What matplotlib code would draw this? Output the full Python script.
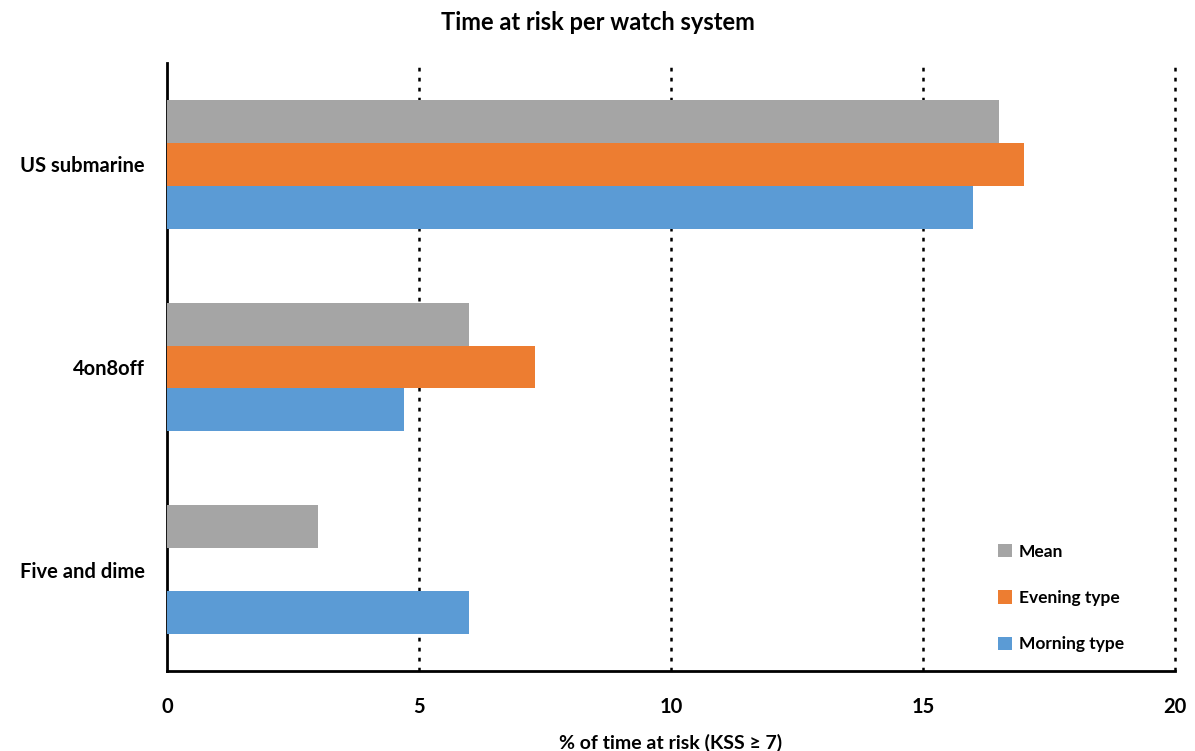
import numpy as np
import matplotlib.pyplot as plt

plt.rcParams['font.family'] = ['Lato', 'DejaVu Sans']
plt.rcParams['font.weight'] = 'bold'

systems = ['Five and dime', '4on8off', 'US submarine']
mean = [3.0, 6.0, 16.5]
evening = [0.0, 7.3, 17.0]
morning = [6.0, 4.7, 16.0]

fig = plt.figure(figsize=(11.95, 7.51), dpi=100)
ax = fig.add_axes([167/1195, 1 - 671/751, (1175-167)/1195, (671-63)/751])

y = np.arange(len(systems))
h = 0.212
ax.barh(y + h, mean, height=h, color='#a5a5a5', label='Mean', zorder=3)
ax.barh(y, evening, height=h, color='#ed7d31', label='Evening type', zorder=3)
ax.barh(y - h, morning, height=h, color='#5b9bd5', label='Morning type', zorder=3)

ax.set_xlim(0, 20)
ax.set_ylim(-0.5, 2.5)
ax.set_xticks([0, 5, 10, 15, 20])
ax.set_yticks(y)
ax.set_yticklabels(systems)
ax.tick_params(length=0, labelsize=14.5)
ax.tick_params(axis='x', pad=19)
ax.tick_params(axis='y', pad=16)
for lbl in ax.get_xticklabels() + ax.get_yticklabels():
    lbl.set_fontweight('bold')

for x in [5, 10, 15, 20]:
    ax.axvline(x, color='black', linestyle=(0, (1.5, 2.5)), linewidth=1.8,
               zorder=1, clip_on=False)

for s in ['top', 'right']:
    ax.spines[s].set_visible(False)
ax.spines['left'].set_linewidth(2)
ax.spines['bottom'].set_linewidth(2)

ax.set_xlabel('% of time at risk (KSS ≥ 7)', fontsize=14, fontweight='bold', labelpad=12)
fig.suptitle('Time at risk per watch system', fontsize=17, fontweight='bold', y=0.985)

leg = ax.legend(loc='lower right', bbox_to_anchor=(0.965, 0.005),
                frameon=False, fontsize=12.5, labelspacing=1.75, handlelength=0.8,
                handleheight=0.8, handletextpad=0.4)

fig.savefig('out.png', dpi=100)
